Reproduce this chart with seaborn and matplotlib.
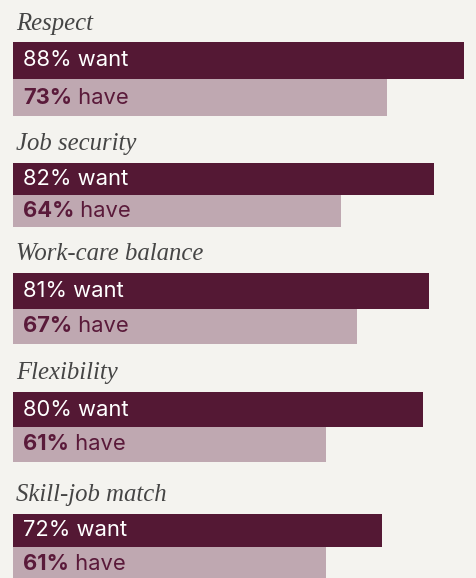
import matplotlib
matplotlib.use("Agg")
import matplotlib.pyplot as plt
import seaborn as sns
import pandas as pd

categories = ["Respect", "Job security", "Work-care balance", "Flexibility", "Skill-job match"]
want = [88, 82, 81, 80, 72]
have = [73, 64, 67, 61, 61]
series = ["want", "have"]

BG = "#F4F3EF"
DARK = "#541834"
LIGHT = "#BFA8B1"
HAVE_TXT = "#5A1A3A"
TITLE_C = "#454545"

sns.set_theme(style="white")
plt.rcParams["font.family"] = ["Inter", "DejaVu Sans"]

W, H = 477, 578
fig = plt.figure(figsize=(W / 100, H / 100), dpi=100)
fig.patch.set_facecolor(BG)

# pixel layout (top of want bar, bottom of have bar, title baseline)
blocks = [(42, 116, 30), (163, 227, 150), (273, 344, 260), (392, 462, 379), (514, 580, 501)]
left_px = 13
px_per_pct = 5.13
xmax = (W - left_px) / px_per_pct

for cat, w, h, (top, bot, tb) in zip(categories, want, have, blocks):
    ax = fig.add_axes([left_px / W, 1 - bot / H, (W - left_px) / W, (bot - top) / H])
    ax.set_facecolor(BG)
    df = pd.DataFrame({"series": series, "value": [w, h]})
    sns.barplot(data=df, x="value", y="series", hue="series",
                palette={"want": DARK, "have": LIGHT}, width=1.0,
                orient="h", legend=False, ax=ax, saturation=1, linewidth=0)
    ax.set_xlim(0, xmax)
    ax.set_ylim(1.5, -0.5)
    ax.axis("off")
    xt = 10 / px_per_pct
    ax.text(xt, 0, f"{w}% want", color="white", fontsize=15.8, va="center", ha="left")
    t1 = ax.text(xt, 1, f"{h}%", color=HAVE_TXT, fontsize=15.8, fontweight="bold",
                 va="center", ha="left")
    ax.annotate(" have", xy=(1, 0), xycoords=t1, color=HAVE_TXT, fontsize=15.8,
                va="bottom", ha="left")
    fig.text(16 / W, 1 - tb / H, cat, family=["Liberation Serif", "DejaVu Serif"],
             style="italic", fontsize=17.8, color=TITLE_C, va="baseline", ha="left")

fig.savefig("out.png", dpi=100, facecolor=BG)
